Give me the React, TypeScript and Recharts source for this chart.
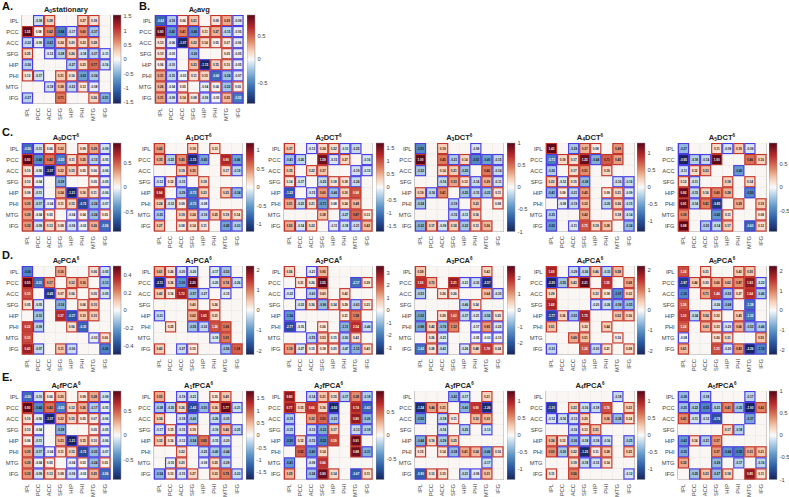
import { BarChart, Bar, Scatter, ScatterChart, XAxis, YAxis, ReferenceArea } from "recharts";

type Row = (number | null)[];
const _ = null;

const REGIONS = ["IPL", "PCC", "ACC", "SFG", "HIP", "PHI", "MTG", "IFG"];

// значения читались с картинки, null = нет подписи в ячейке
const stationary: Row[] = [
  [_, -0.18, 0.28, _, _, 0.27, 0.18, _],
  [1.55, 0.08, 0.62, -0.84, -0.17, 0.6, -0.37, _],
  [-0.22, -0.09, -0.61, 0.24, 0.2, 0.23, 0.28, _],
  [0.25, _, -0.12, -0.28, 0.26, -0.18, -0.27, -0.11],
  [-0.26, _, _, _, -0.27, 0.23, 0.77, -0.16],
  [0.13, -0.17, _, 0.31, 0.16, -0.61, -0.34, _],
  [_, _, -0.18, 0.38, -0.23, 0.13, -0.08, _],
  [-0.27, _, _, 0.71, _, _, 0.26, -0.51],
];
const avg: Row[] = [
  [-0.62, -0.19, 0.06, 0.21, _, 0.09, 0.29, -0.09],
  [0.9, -0.42, 0.41, -0.46, 0.11, 0.27, -0.15, -0.05],
  [0.1, -0.06, -1.07, 0.22, 0.14, 0.05, 0.07, -0.06],
  [0.1, -0.03, _, -0.26, _, _, 0.05, -0.05],
  [0.06, -0.1, _, 0.23, -1.15, 0.15, 0.1, -0.05],
  [0.31, -0.15, -0.03, 0.11, 0.15, -0.6, -0.24, -0.07],
  [0.26, -0.04, 0.05, _, -0.04, 0.04, -0.22, 0.05],
  [0.31, -0.09, 0.14, 0.08, -0.09, -0.03, 0.25, -0.55],
];
const dct0: Row[] = [
  [-0.56, -0.11, 0.06, 0.22, _, 0.09, 0.29, -0.09],
  [0.93, -0.44, 0.42, -0.5, 0.11, 0.25, -0.15, -0.05],
  [0.1, -0.06, -1.07, 0.22, 0.15, 0.05, 0.06, -0.06],
  [0.1, -0.04, _, -0.29, _, _, 0.05, -0.05],
  [0.09, -0.11, _, 0.24, -1.21, 0.16, 0.11, -0.06],
  [0.3, -0.17, -0.04, 0.11, 0.15, -0.72, -0.24, -0.07],
  [0.29, -0.04, 0.05, _, -0.04, 0.04, -0.24, 0.05],
  [0.32, -0.09, 0.13, 0.08, -0.09, -0.03, 0.26, -0.56],
];
const dct1: Row[] = [
  [0.42, _, _, 0.19, _, 0.13, _, _],
  [0.35, -0.22, 0.45, -1.15, -0.45, _, 0.9, -0.46],
  [_, _, 0.19, 0.35, _, _, 0.17, -0.19],
  [-0.12, 0.12, -0.15, _, 0.19, _, _, _],
  [0.94, _, -0.29, -0.72, 0.23, _, 0.25, -0.34],
  [0.24, -0.12, 0.09, -0.72, -0.08, _, _, _],
  [-0.25, _, 0.19, 0.24, -0.19, 0.25, 0.19, 0.14],
  [0.27, _, 0.08, 0.14, 0.11, _, -0.45, -0.23],
];
const dct2: Row[] = [
  [0.37, _, -0.12, 0.24, 0.22, -0.13, -0.25, _],
  [-0.41, -0.26, _, 1.59, -0.15, 0.27, _, -0.16],
  [0.35, _, 0.22, 0.37, _, _, -0.19, -0.15],
  [0.14, -0.17, _, -0.25, 0.18, 0.18, -0.24, _],
  [-1.22, _, -0.15, 0.6, -0.46, 0.3, 0.98, _],
  [0.51, -0.23, 0.21, -0.71, 0.08, 0.24, 0.48, _],
  [_, _, _, 0.38, _, -0.27, 0.87, 0.13],
  [0.5, -0.14, 0.22, _, -0.11, -0.18, -0.21, 0.42],
];
const dct3: Row[] = [
  [-0.5, _, 0.19, _, _, -0.09, _, _],
  [1.0, _, 0.45, -0.21, 0.14, -0.51, -0.4, -0.15],
  [-0.22, _, 0.14, 0.21, -0.25, _, 0.46, -0.14],
  [_, _, -0.16, 0.33, 0.12, -0.14, 0.29, -0.11],
  [0.19, -0.16, 0.41, _, -0.25, -0.15, -0.22, 0.11],
  [-0.24, _, _, -0.19, _, 0.23, _, 0.08],
  [_, _, _, -0.15, -0.11, 0.16, _, _],
  [-0.32, 0.17, -0.09, 0.18, -0.22, 0.13, 0.26, _],
];
const dct4: Row[] = [
  [1.4, _, -0.29, 0.37, 0.08, _, 0.49, _],
  [-0.73, 0.19, 0.17, 1.25, -0.44, 0.71, 0.45, _],
  [-0.26, _, 0.17, 0.51, _, 0.19, _, _],
  [0.23, -0.12, 0.15, -0.38, _, _, -0.16, -0.16],
  [-0.41, 0.09, -0.21, 0.45, _, 0.09, 0.21, -0.09],
  [_, -0.09, -0.19, 0.32, _, -0.2, 0.26, -0.15],
  [-0.25, _, _, 0.42, _, _, 0.18, -0.14],
  [-0.55, _, -0.11, 0.75, 0.19, 0.28, _, -0.34],
];
const dct5: Row[] = [
  [-0.27, _, _, 0.11, -0.09, 0.19, -0.09, _],
  [-0.95, -0.18, -0.14, 1.0, _, _, 0.46, 0.16],
  [-0.11, 0.12, 0.23, _, _, -0.4, _, _],
  [0.12, -0.11, _, _, 0.18, _, 0.14, _],
  [0.92, -0.15, 0.16, 0.4, 0.28, _, -0.5, _],
  [0.91, -0.14, 0.41, -0.85, _, 0.29, _, 0.19],
  [0.39, _, _, -0.42, 0.11, _, _, 0.08],
  [0.98, _, -0.2, -0.14, 0.17, _, -0.63, 0.12],
];
const pca0: Row[] = [
  [-0.26, _, _, 0.16, _, _, 0.06, -0.05],
  [0.5, -0.31, 0.17, _, 0.12, 0.16, _, -0.13],
  [0.3, _, -0.45, 0.07, 0.06, _, 0.05, -0.05],
  [0.05, -0.05, _, -0.16, _, 0.06, 0.1, _],
  [_, -0.12, _, 0.37, -0.37, 0.1, 0.1, _],
  [0.32, -0.09, _, _, 0.06, -0.33, _, _],
  [0.3, _, _, _, _, _, -0.03, 0.06],
  [0.4, -0.07, _, 0.11, -0.06, _, _, -0.26],
];
const pca1: Row[] = [
  [0.61, 0.26, -0.2, -0.2, _, -0.17, -0.53, _],
  [-2.11, 0.36, -1.0, 2.2, _, -0.2, 0.74, -0.26],
  [0.42, 0.16, 1.72, -0.57, -0.27, _, -0.15, _],
  [_, _, _, 0.4, _, 0.26, _, _],
  [-0.31, _, _, 0.62, 1.65, 0.31, _, _],
  [_, 0.25, _, -0.55, -0.32, 1.26, 1.06, _],
  [_, _, _, _, _, -0.19, 1.01, _],
  [0.42, _, -0.27, 0.15, _, _, -0.56, 1.18],
];
const pca2: Row[] = [
  [0.56, _, -0.21, 0.95, _, _, _, _],
  [_, 0.31, 0.26, 3.55, _, _, -2.17, 0.29],
  [-0.32, _, -0.6, 0.6, _, 0.42, _, _],
  [_, -0.33, 0.36, -0.96, 0.34, 0.29, -0.63, 0.23],
  [-1.54, _, _, _, _, 0.21, 1.58, _],
  [-2.77, -0.15, _, 0.26, _, -1.11, 2.54, -0.46],
  [_, _, -0.55, 0.53, 0.15, -0.5, 0.42, _],
  [1.19, -0.27, 0.15, 0.18, 0.2, -0.47, -1.12, 0.43],
];
const pca3: Row[] = [
  [0.59, _, _, _, _, _, 0.42, _],
  [1.93, 0.73, _, 2.21, -0.21, -0.33, -2.57, _],
  [-0.53, _, 0.26, 0.26, _, _, 0.64, -0.3],
  [_, _, _, _, -0.46, 0.24, _, _],
  [-1.02, _, 0.29, 1.62, -0.37, -0.21, -0.56, 0.25],
  [-0.98, 0.42, -0.76, 1.12, _, -0.17, 0.95, -0.22],
  [_, 0.26, -0.21, _, _, -0.05, -0.03, -0.1],
  [-1.62, 0.28, -0.41, _, -0.26, 0.48, 1.78, 0.34],
];
const pca4: Row[] = [
  [1.69, _, -0.29, -0.36, 0.46, -0.33, 0.58, _],
  [-2.2, -0.55, 0.43, 2.21, _, 1.55, _, 0.68],
  [0.29, _, _, _, 0.33, 0.18, -1.07, 0.32],
  [1.68, _, _, _, -0.2, -0.26, -0.58, -0.55],
  [-1.77, 0.36, -0.52, 1.75, _, _, 0.52, 0.36],
  [0.51, _, _, 0.32, _, 0.44, _, _],
  [_, _, 0.69, 0.51, _, _, 0.16, _],
  [-0.33, _, _, 1.26, -0.3, 0.21, _, 0.28],
];
const pca5: Row[] = [
  [1.34, _, 0.31, _, _, 0.43, 0.5, _],
  [-1.97, 0.44, 0.3, 0.66, 0.62, 0.87, 1.93, -0.22],
  [-1.16, _, 0.71, 1.44, -0.52, 0.27, 1.64, -0.46],
  [1.26, _, _, -0.26, -0.68, _, -1.38, _],
  [1.53, -0.34, 0.54, 0.32, _, 0.45, -1.32, _],
  [1.24, _, 0.63, 0.33, -0.2, 0.66, -0.53, -0.46],
  [-0.08, _, _, 0.26, 0.31, _, _, 0.5],
  [0.61, _, _, 1.33, -0.2, 0.83, -2.26, -1.19],
];
const fpca0: Row[] = [
  [-0.56, -0.1, 0.06, 0.2, _, 0.09, 0.28, -0.09],
  [0.93, -0.44, 0.43, -0.5, 0.12, 0.26, -0.17, -0.05],
  [0.1, -0.06, -1.07, 0.22, 0.15, 0.05, 0.07, -0.06],
  [0.1, -0.04, _, -0.29, _, _, 0.05, -0.05],
  [0.06, -0.11, _, 0.23, -1.21, 0.15, 0.1, -0.06],
  [0.3, -0.17, -0.04, 0.11, 0.15, -0.72, -0.25, -0.07],
  [0.29, -0.04, 0.05, _, -0.04, 0.03, -0.24, 0.05],
  [0.33, -0.09, 0.13, 0.08, -0.09, -0.03, 0.25, -0.56],
];
const fpca1: Row[] = [
  [0.55, _, -0.19, -0.21, _, 0.15, 0.4, _],
  [-0.38, -0.3, 0.26, -1.42, -0.5, 0.36, 1.77, -0.21],
  [0.34, _, -0.18, -0.43, _, -0.26, -0.3, _],
  [-0.17, 0.15, -0.15, 0.19, _, -0.19, 0.46, -0.25],
  [0.32, 0.16, -0.12, -0.54, 0.85, -0.15, -0.2, _],
  [_, _, 0.22, _, -0.25, -0.4, -0.44, _],
  [_, -0.1, 0.2, _, -0.09, 0.25, -0.29, _],
  [-0.54, 0.13, -0.15, 0.27, _, 0.33, 0.78, -0.23],
];
const fpca2: Row[] = [
  [0.8, _, -0.14, 0.21, 0.15, -0.17, 0.38, -0.18],
  [0.77, 0.15, 0.66, 0.16, -0.92, _, 0.74, -0.63],
  [-0.19, _, 0.32, 0.5, -0.22, _, 0.8, -0.26],
  [-0.15, _, -0.12, -0.33, 0.17, _, -0.13, -0.18],
  [-0.5, 0.12, -0.15, -0.52, 0.59, _, 0.91, _],
  [_, 0.52, -0.4, 0.14, _, _, 0.88, -0.31],
  [-0.41, _, -0.09, 0.66, _, _, _, _],
  [0.25, _, -0.24, 0.9, 0.14, _, -0.67, 0.11],
];
const fpca3: Row[] = [
  [_, _, _, -0.41, -0.17, _, 0.21, _],
  [-1.24, 0.44, 0.31, _, -0.4, 0.9, -1.26, _],
  [-0.52, _, -0.18, 0.11, _, 0.33, 0.33, _],
  [_, _, -0.16, _, -0.25, _, -0.13, _],
  [-0.44, 0.19, -0.29, 0.25, _, _, _, _],
  [0.15, _, 0.14, -0.38, 0.41, 0.34, -0.46, 0.16],
  [_, _, _, _, _, _, -0.17, _],
  [-0.9, 0.13, 0.15, _, -0.21, -0.09, 0.31, _],
];
const fpca4: Row[] = [
  [_, _, _, _, _, _, -0.18, _],
  [-1.1, _, 0.23, -0.16, -0.18, 0.76, _, 0.23],
  [-0.12, -0.16, -0.13, 0.2, _, 0.36, -0.36, 0.14],
  [_, _, -0.16, 0.13, 0.31, _, _, _],
  [0.34, 0.13, -0.36, -0.18, -0.18, -0.16, _, -0.25],
  [0.5, -0.3, 0.22, -1.25, 0.11, 0.28, _, 0.25],
  [_, _, 0.19, -0.18, -0.15, 0.14, _, _],
  [0.11, _, 0.56, _, _, _, _, -0.12],
];
const fpca5: Row[] = [
  [-0.28, _, -0.18, _, _, _, -0.17, _],
  [-0.25, -0.22, -0.52, -0.21, 0.41, -0.25, -1.0, 0.42],
  [0.41, -0.11, -0.12, -0.76, _, _, -0.37, _],
  [_, _, _, _, 0.17, -0.18, _, _],
  [-0.42, 0.14, -0.21, 0.37, _, _, _, _],
  [-0.35, _, _, 0.37, -0.44, -0.55, 0.31, 0.21],
  [0.32, _, _, -0.29, _, -0.17, _, -0.16],
  [_, -0.25, 0.23, -0.27, 0.18, _, 0.85, 0.11],
];

const T15 = [1.5, 1, 0.5, 0, -0.5, -1, -1.5];
const T10 = [1, 0.5, 0, -0.5, -1];
const T05 = [0.5, 0, -0.5];
const T2 = [2, 1, 0, -1, -2];

// [индекс, суффикс названия, суффикс-степень, матрица, предел цветовой шкалы, подписи шкалы, x, y]
const PANELS: [number, string, string, Row[], number, number[], number, number][] = [
  [0, "stationary", "", stationary, 1.55, T15, 21.7, 15],
  [0, "avg", "", avg, 0.95, T05, 155, 15],
  [0, "DCT", "6", dct0, 0.9, T05, 21.7, 143.3],
  [1, "DCT", "6", dct1, 1.2, T10, 154.3, 143.3],
  [2, "DCT", "6", dct2, 1.7, T15, 284.3, 143.3],
  [3, "DCT", "6", dct3, 1, T10, 415, 143.3],
  [4, "DCT", "6", dct4, 1.3, T10, 545.7, 143.3],
  [5, "DCT", "6", dct5, 0.95, T05, 677.7, 143.3],
  [0, "PCA", "6", pca0, 0.5, [0.4, 0.2, 0, -0.2, -0.4], 21.7, 266.3],
  [1, "PCA", "6", pca1, 2.2, T2, 154.3, 266.3],
  [2, "PCA", "6", pca2, 3.55, [3, 2, 1, 0, -1, -2, -3], 284.3, 266.3],
  [3, "PCA", "6", pca3, 2.7, T2, 415, 266.3],
  [4, "PCA", "6", pca4, 2.2, T2, 545.7, 266.3],
  [5, "PCA", "6", pca5, 2.25, T2, 677.7, 266.3],
  [0, "fPCA", "6", fpca0, 0.9, T05, 21.7, 391.3],
  [1, "fPCA", "6", fpca1, 1.8, T15, 154.3, 391.3],
  [2, "fPCA", "6", fpca2, 0.95, T05, 284.3, 391.3],
  [3, "fPCA", "6", fpca3, 1.3, T10, 415, 391.3],
  [4, "fPCA", "6", fpca4, 1.3, T10, 545.7, 391.3],
  [5, "fPCA", "6", fpca5, 1, T10, 677.7, 391.3],
];

const LETTERS: [string, number, number][] = [
  ["A.", 2, 0],
  ["B.", 139, 0],
  ["C.", 2, 126],
  ["D.", 2, 249],
  ["E.", 2, 371],
];

const FONT = "'Liberation Sans', Arial, sans-serif";
const PLOT = 88.5;
const CELL = PLOT / 8;
const Y_W = 21;
const X_H = 22;
const CELL_TICKS = [0.5, 1.5, 2.5, 3.5, 4.5, 5.5, 6.5, 7.5];
const AXIS_TEXT = "#444";
const BLANK = "#f9f6f3";

const STOPS: [number, string][] = [
  [0, "#17255c"],
  [0.14, "#2c5aa5"],
  [0.28, "#5f97c9"],
  [0.42, "#bcd6ea"],
  [0.5, "#fafafa"],
  [0.6, "#f6cdb4"],
  [0.72, "#dd7f5f"],
  [0.86, "#b82a2b"],
  [1, "#590719"],
];

function hex(c: string) {
  return [1, 3, 5].map((i) => parseInt(c.slice(i, i + 2), 16));
}

function colorOf(v: number, max: number) {
  const t = Math.min(1, Math.max(0, (v / max + 1) / 2));
  for (let i = 1; i < STOPS.length; i++) {
    if (t <= STOPS[i][0]) {
      const [t0, c0] = STOPS[i - 1];
      const [t1, c1] = STOPS[i];
      const k = (t - t0) / (t1 - t0);
      const a = hex(c0);
      const b = hex(c1);
      return `rgb(${a.map((x, j) => Math.round(x + (b[j] - x) * k)).join(",")})`;
    }
  }
  return STOPS[STOPS.length - 1][1];
}

function FillCell(props: any) {
  const { cx, cy, payload } = props;
  const fill = payload.v === null ? BLANK : colorOf(payload.v, payload.max);
  return (
    <rect
      x={cx - CELL / 2}
      y={cy - CELL / 2}
      width={CELL}
      height={CELL}
      fill={fill}
      stroke="#e6e3e1"
      strokeWidth={0.4}
    />
  );
}

function BoxCell(props: any) {
  const { cx, cy, payload } = props;
  if (payload.v === null) return <g />;
  const strong = Math.abs(payload.v) / payload.max > 0.55;
  return (
    <g>
      <rect
        x={cx - CELL / 2 + 0.5}
        y={cy - CELL / 2 + 0.5}
        width={CELL - 1}
        height={CELL - 1}
        fill="none"
        stroke={payload.v > 0 ? "#c4332b" : "#4a3be2"}
        strokeWidth={1.1}
      />
      <text
        x={cx}
        y={cy + 1}
        textAnchor="middle"
        fontSize={3}
        fontWeight="bold"
        fontFamily={FONT}
        fill={strong ? "#fff" : "#111"}
      >
        {payload.v.toFixed(2)}
      </text>
    </g>
  );
}

function XTick(props: any) {
  const { x, y, payload } = props;
  return (
    <text
      x={x}
      y={y + 2.5}
      transform={`rotate(-90 ${x} ${y + 2.5})`}
      textAnchor="end"
      dominantBaseline="middle"
      fontSize={5.8}
      fontFamily={FONT}
      fill={AXIS_TEXT}
    >
      {REGIONS[Math.floor(payload.value)]}
    </text>
  );
}

function Heatmap({ values, max }: { values: Row[]; max: number }) {
  const cells = values.flatMap((row, i) =>
    row.map((v, j) => ({ x: j + 0.5, y: i + 0.5, v, max })),
  );
  return (
    <ScatterChart
      width={Y_W + PLOT + 1}
      height={PLOT + X_H + 1}
      margin={{ top: 0, right: 1, bottom: 1, left: 0 }}
    >
      <XAxis
        type="number"
        dataKey="x"
        domain={[0, 8]}
        ticks={CELL_TICKS}
        interval={0}
        height={X_H}
        axisLine={false}
        tickLine={false}
        tickSize={0}
        tick={<XTick />}
      />
      <YAxis
        type="number"
        dataKey="y"
        domain={[0, 8]}
        reversed
        ticks={CELL_TICKS}
        interval={0}
        width={Y_W}
        axisLine={false}
        tickLine={false}
        tickSize={0}
        tickMargin={3.4}
        tickFormatter={(v: number) => REGIONS[Math.floor(v)]}
        tick={{ fontSize: 5.8, fontFamily: FONT, fill: AXIS_TEXT }}
      />
      <Scatter data={cells} shape={<FillCell />} isAnimationActive={false} />
      <Scatter data={cells} shape={<BoxCell />} isAnimationActive={false} />
      <ReferenceArea x1={0} x2={8} y1={0} y2={8} fill="none" stroke="#8c8c8c" strokeWidth={1} />
    </ScatterChart>
  );
}

function Colorbar({ id, max, ticks }: { id: string; max: number; ticks: number[] }) {
  return (
    <BarChart
      width={32}
      height={PLOT + 4}
      data={[{ name: "scale", range: [-max, max] }]}
      margin={{ top: 2, right: 0, bottom: 2, left: 0 }}
      barCategoryGap={0}
    >
      <defs>
        <linearGradient id={id} x1="0" y1="1" x2="0" y2="0">
          {STOPS.map(([t, c]) => (
            <stop key={t} offset={t} stopColor={c} />
          ))}
        </linearGradient>
      </defs>
      <XAxis dataKey="name" hide />
      <YAxis
        orientation="right"
        type="number"
        domain={[-max, max]}
        ticks={ticks}
        interval={0}
        width={24}
        axisLine={false}
        tickLine={false}
        tickSize={0}
        tickMargin={2.5}
        tick={{ fontSize: 5.8, fontFamily: FONT, fill: AXIS_TEXT }}
      />
      <Bar dataKey="range" fill={`url(#${id})`} stroke="#8c8c8c" strokeWidth={0.5} isAnimationActive={false} />
    </BarChart>
  );
}

function Title({ index, name, power }: { index: number; name: string; power: string }) {
  return (
    <div
      style={{
        width: PLOT,
        textAlign: "center",
        fontFamily: FONT,
        fontWeight: "bold",
        fontSize: 7.5,
        lineHeight: "9px",
        color: "#222",
        whiteSpace: "nowrap",
      }}
    >
      A
      <span style={{ fontSize: 5, position: "relative", top: 1.5 }}>{index}</span>
      {name}
      {power && <span style={{ fontSize: 4.5, position: "relative", top: -2.5 }}>{power}</span>}
    </div>
  );
}

export default function App() {
  return (
    <div style={{ position: "absolute", left: 0, top: 0, width: 789, height: 497, overflow: "hidden", background: "#fff" }}>
      {LETTERS.map(([t, x, y]) => (
        <div
          key={t}
          style={{ position: "absolute", left: x, top: y, fontFamily: FONT, fontWeight: "bold", fontSize: 11, lineHeight: "12px", color: "#111" }}
        >
          {t}
        </div>
      ))}
      {PANELS.map(([index, name, power, values, max, ticks, x, y], i) => (
        <div key={i}>
          <div style={{ position: "absolute", left: x, top: y - 10.5 }}>
            <Title index={index} name={name} power={power} />
          </div>
          <div style={{ position: "absolute", left: x - Y_W, top: y }}>
            <Heatmap values={values} max={max} />
          </div>
          <div style={{ position: "absolute", left: x + PLOT + 3, top: y - 2 }}>
            <Colorbar id={`scale-${i}`} max={max} ticks={ticks} />
          </div>
        </div>
      ))}
    </div>
  );
}
